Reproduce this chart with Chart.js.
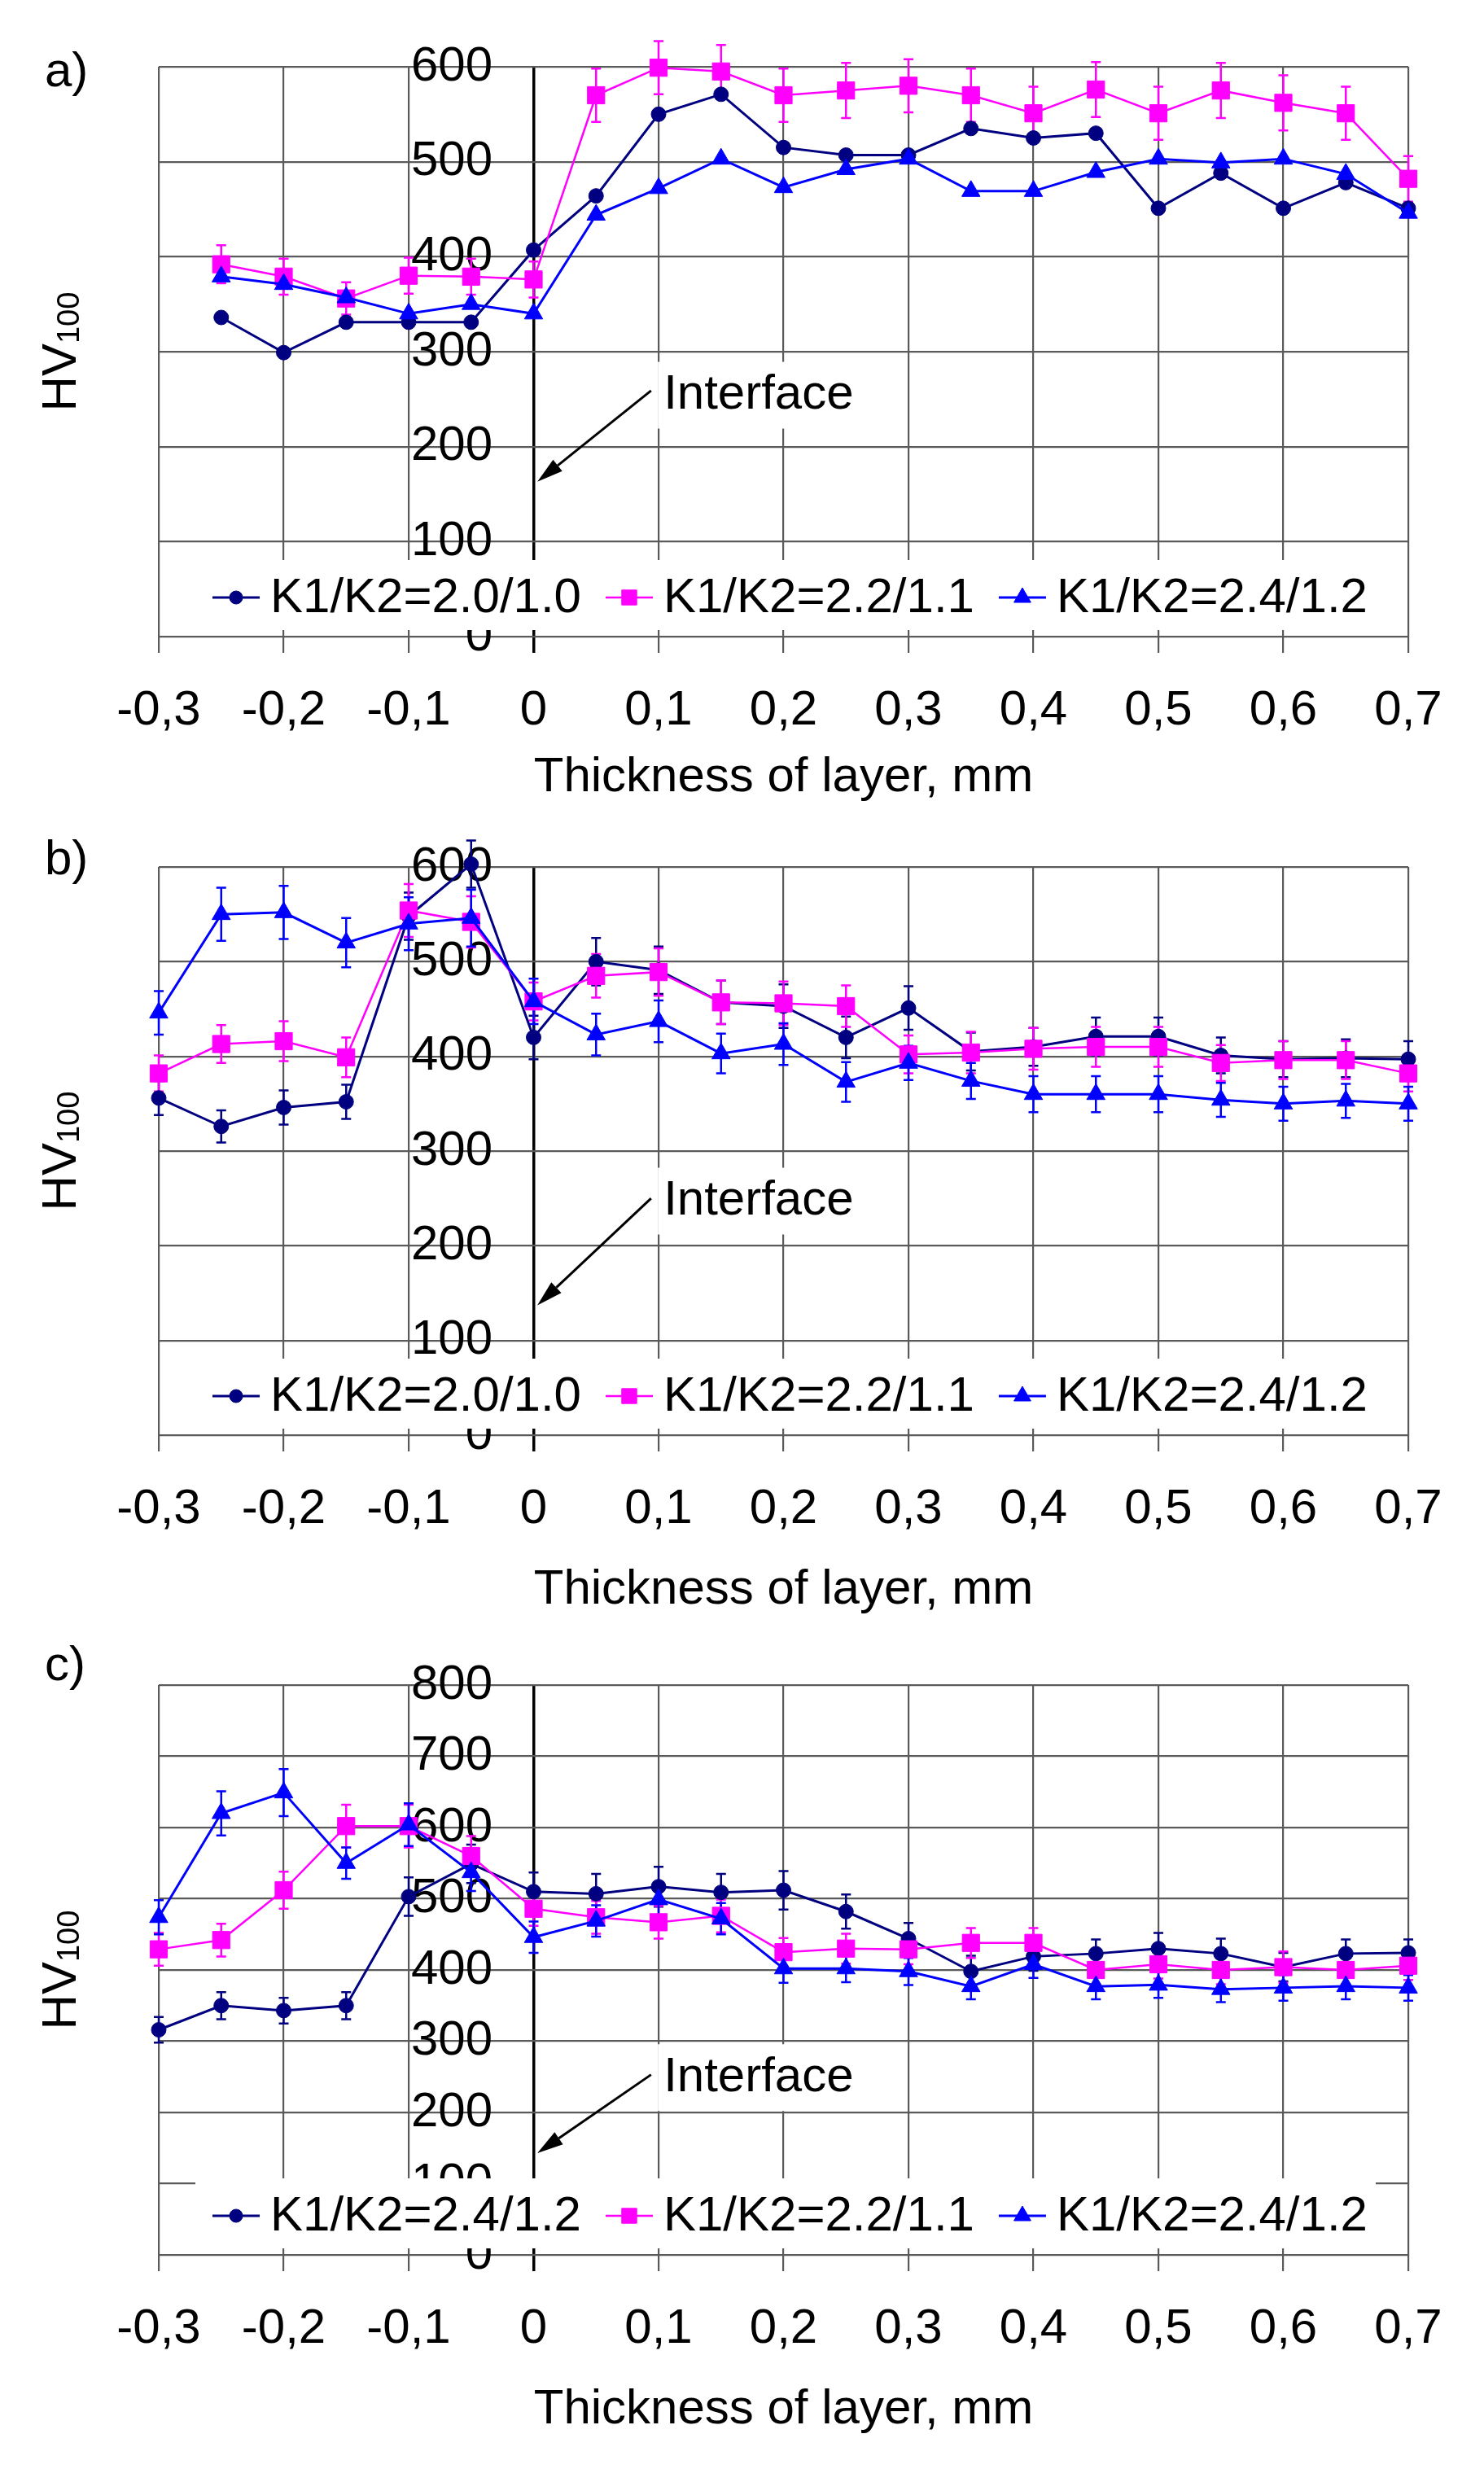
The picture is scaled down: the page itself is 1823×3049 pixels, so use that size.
<!DOCTYPE html>
<html><head><meta charset="utf-8">
<script src="https://cdn.jsdelivr.net/npm/chart.js@4.4.1/dist/chart.umd.min.js"></script>
<style>
html,body{margin:0;padding:0;background:#fff;}
#wrap{position:relative;width:1823px;height:3049px;background:#fff;overflow:hidden;}
.pan{position:absolute;left:0;width:1823px;}
canvas{display:block;}
</style></head><body>
<div id="wrap">
<div class="pan" style="top:0;height:1000px"><canvas id="ca" width="1823" height="1000"></canvas></div>
<div class="pan" style="top:1000px;height:1000px"><canvas id="cb" width="1823" height="1000"></canvas></div>
<div class="pan" style="top:2000px;height:1049px"><canvas id="cc" width="1823" height="1049"></canvas></div>
</div>
<script>
// ---------- data ----------
const xTickLabels = ['-0,3','-0,2','-0,1','0','0,1','0,2','0,3','0,4','0,5','0,6','0,7'];
const yTickLabels600 = ['0','100','200','300','400','500','600'];
const yTickLabels800 = ['0','100','200','300','400','500','600','700','800'];
const xAxisTitle = 'Thickness of layer, mm';

const xA  = [-0.25,-0.2,-0.15,-0.1,-0.05,0,0.05,0.1,0.15,0.2,0.25,0.3,0.35,0.4,0.45,0.5,0.55,0.6,0.65,0.7];
const xBC = [-0.3,-0.25,-0.2,-0.15,-0.1,-0.05,0,0.05,0.1,0.15,0.2,0.25,0.3,0.35,0.4,0.45,0.5,0.55,0.6,0.65,0.7];

// panel a
const labelsA = ['K1/K2=2.0/1.0','K1/K2=2.2/1.1','K1/K2=2.4/1.2'];
const navyA  = [336,299,331,331,331,407,464,550,571,515,507,507,535,525,530,451,488,451,478,451];
const magA   = [392,379,356,380,379,376,570,599,595,570,575,580,570,551,576,551,575,562,551,482];
const magAerr= [20,19,17,19,19,19,28,28,28,28,29,28,28,28,29,28,29,29,28,24];
const blueA  = [379,371,357,340,350,340,444,472,503,473,492,503,469,469,489,503,499,503,487,446];

// panel b
const labelsB = ['K1/K2=2.0/1.0','K1/K2=2.2/1.1','K1/K2=2.4/1.2'];
const navyB   = [356,326,346,352,548,603,420,500,491,457,453,420,451,405,410,421,421,401,397,398,397];
const navyBerr= [18,17,18,18,25,25,23,25,25,23,23,22,23,20,20,20,20,19,19,20,19];
const magB    = [382,413,416,399,554,542,458,485,489,457,456,453,402,404,408,410,410,393,396,396,382];
const magBerr = [19,20,21,21,28,27,20,23,25,23,23,22,20,22,22,21,21,19,20,20,19];
const blueB   = [446,550,552,520,540,546,458,423,437,403,413,373,393,374,360,360,360,354,350,353,350];
const blueBerr= [23,28,28,26,28,30,24,22,22,21,22,21,18,19,19,19,19,18,18,18,18];

// panel c
const labelsC = ['K1/K2=2.4/1.2','K1/K2=2.2/1.1','K1/K2=2.4/1.2'];
const navyC   = [316,350,343,350,503,549,510,507,517,509,512,482,444,398,419,423,430,423,404,423,424];
const navyCerr= [18,19,18,19,27,27,27,28,28,26,27,24,22,22,20,20,22,21,20,20,19];
const magC    = [429,442,512,602,602,560,486,474,467,476,425,430,429,438,438,400,408,400,404,400,406];
const magCerr = [23,23,26,30,30,28,24,23,23,23,20,21,21,21,21,20,20,20,22,20,20];
const blueC   = [474,620,649,550,604,537,446,469,499,472,402,402,398,377,408,377,379,373,375,377,375];
const blueCerr= [24,31,33,22,30,26,22,22,22,22,20,19,19,18,19,18,18,18,18,18,18];

// ---------- styling ----------
const FONT = "'Liberation Sans', Arial, Helvetica, sans-serif";
const FS = 60;
const NAVY = '#000080', MAG = '#FF00FF', BLUE = '#0000FF';
const GRID = '#5a5a5a';

const styleSeries = [
  {color: NAVY, style: 'circle',   r: 9,  lr: 8,  bw: 3},
  {color: MAG,  style: 'rect',     r: 15, lr: 13, bw: 2.5},
  {color: BLUE, style: 'triangle', r: 13, lr: 12, bw: 3}
];

const isZero = v => Math.abs(v) < 1e-9;

const decoPlugin = {
  id: 'deco',
  beforeDatasetsDraw(chart) {
    const {ctx, chartArea: ca, scales: {x, y}} = chart;
    const o = chart.options.plugins.deco;
    ctx.save();
    // Interface annotation
    ctx.font = FS + 'px ' + FONT;
    ctx.textBaseline = 'middle';
    ctx.textAlign = 'left';
    const tx = x.getPixelForValue(0.104);
    const ty = y.getPixelForValue(o.ifaceY);
    const tw = ctx.measureText('Interface').width;
    ctx.fillStyle = '#fff';
    ctx.fillRect(tx - 7, ty - 40, tw + 12, 82);
    ctx.fillStyle = '#000';
    ctx.fillText('Interface', tx, ty + 1);
    const x1 = x.getPixelForValue(0.094), y1 = y.getPixelForValue(o.arrowFrom);
    const x2 = x.getPixelForValue(0.003), y2 = y.getPixelForValue(o.arrowTo);
    const ang = Math.atan2(y2 - y1, x2 - x1);
    const hl = 32, hw = 9;
    const bx = x2 - Math.cos(ang) * hl, by = y2 - Math.sin(ang) * hl;
    ctx.strokeStyle = '#000';
    ctx.lineWidth = 3;
    ctx.beginPath(); ctx.moveTo(x1, y1); ctx.lineTo(bx, by); ctx.stroke();
    ctx.beginPath();
    ctx.moveTo(x2, y2);
    ctx.lineTo(bx + Math.sin(ang) * hw, by - Math.cos(ang) * hw);
    ctx.lineTo(bx - Math.sin(ang) * hw, by + Math.cos(ang) * hw);
    ctx.closePath(); ctx.fillStyle = '#000'; ctx.fill();
    // error bars
    chart.data.datasets.forEach(ds => {
      if (!ds.errors) return;
      ctx.strokeStyle = ds.borderColor;
      ctx.lineWidth = 2.5;
      ds.data.forEach((p, i) => {
        const e = ds.errors[i];
        const px = x.getPixelForValue(p.x);
        const yt = y.getPixelForValue(p.y + e), yb = y.getPixelForValue(p.y - e);
        ctx.beginPath();
        ctx.moveTo(px, yt); ctx.lineTo(px, yb);
        ctx.moveTo(px - 6, yt); ctx.lineTo(px + 6, yt);
        ctx.moveTo(px - 6, yb); ctx.lineTo(px + 6, yb);
        ctx.stroke();
      });
    });
    ctx.restore();
  },
  afterDatasetsDraw(chart) {
    const {ctx, chartArea: ca} = chart;
    const o = chart.options.plugins.deco;
    ctx.save();
    // legend box inside plot
    ctx.fillStyle = '#fff';
    ctx.fillRect(ca.left + 45, ca.bottom - 94, ca.right - ca.left - 85, 86);
    ctx.font = FS + 'px ' + FONT;
    ctx.textBaseline = 'middle';
    ctx.textAlign = 'left';
    const cy = ca.bottom - 48;
    let lx = ca.left + 66;
    chart.data.datasets.forEach(ds => {
      ctx.strokeStyle = ds.borderColor;
      ctx.lineWidth = ds.borderWidth;
      ctx.beginPath(); ctx.moveTo(lx, cy); ctx.lineTo(lx + 58, cy); ctx.stroke();
      ctx.fillStyle = ds.backgroundColor;
      ctx.lineWidth = 1;
      Chart.helpers.drawPoint(ctx, {pointStyle: ds.pointStyle, radius: ds.legendR, borderWidth: 1, rotation: 0}, lx + 29, cy);
      ctx.fillStyle = '#000';
      ctx.fillText(ds.label, lx + 71, cy + 1);
      lx += 71 + ctx.measureText(ds.label).width + 30;
    });
    // y axis title HV100 with subscript
    const cyT = (ca.top + ca.bottom) / 2;
    ctx.translate(93, cyT);
    ctx.rotate(-Math.PI / 2);
    ctx.textBaseline = 'alphabetic';
    ctx.font = FS + 'px ' + FONT;
    const w1 = ctx.measureText('HV').width;
    ctx.font = '38px ' + FONT;
    const w2 = ctx.measureText('100').width;
    const sx = -(w1 + w2) / 2;
    ctx.font = FS + 'px ' + FONT;
    ctx.fillText('HV', sx, 0);
    ctx.font = '38px ' + FONT;
    ctx.fillText('100', sx + w1, 4);
    ctx.restore();
    // panel label
    ctx.save();
    ctx.font = FS + 'px ' + FONT;
    ctx.fillStyle = '#000';
    ctx.textBaseline = 'middle';
    ctx.textAlign = 'left';
    ctx.fillText(o.panel, 55, o.panelY);
    ctx.restore();
  }
};

function makeChart(id, cfg) {
  const datasets = cfg.series.map((vals, i) => {
    const st = styleSeries[i];
    return {
      label: cfg.labels[i],
      data: cfg.x.map((xv, j) => ({x: xv, y: vals[j]})),
      errors: cfg.errs[i],
      borderColor: st.color, backgroundColor: st.color,
      pointBorderColor: st.color, pointBackgroundColor: st.color,
      borderWidth: st.bw, pointStyle: st.style, pointRadius: st.r, pointHoverRadius: st.r,
      pointBorderWidth: 1, legendR: st.lr, tension: 0, clip: false, order: 3 - i
    };
  });
  return new Chart(document.getElementById(id), {
    type: 'line',
    data: {datasets},
    options: {
      responsive: false, animation: false, devicePixelRatio: 1,
      events: [],
      layout: {padding: {left: 195, right: 93, top: cfg.top, bottom: cfg.padBottom}},
      plugins: {
        legend: {display: false}, tooltip: {enabled: false},
        deco: {panel: cfg.panel, panelY: cfg.panelY, ifaceY: cfg.ifaceY, arrowFrom: cfg.arrowFrom, arrowTo: cfg.arrowTo}
      },
      scales: {
        x: {
          type: 'linear', min: -0.3, max: 0.7, position: 'bottom',
          ticks: {stepSize: 0.1, autoSkip: false, maxRotation: 0, minRotation: 0, padding: 35,
            color: '#000', font: {family: FONT, size: FS}, callback: (v, i) => xTickLabels[i]},
          grid: {color: c => (c.tick && isZero(c.tick.value)) ? '#000' : GRID,
                 lineWidth: c => (c.tick && isZero(c.tick.value)) ? 3.5 : 2.2,
                 tickLength: 20, drawTicks: true},
          border: {display: false},
          title: {display: true, text: xAxisTitle, color: '#000', font: {family: FONT, size: FS}, padding: 0},
          afterFit: s => { s.height = cfg.xH; s.paddingLeft = 0; s.paddingRight = 0; }
        },
        y: {
          type: 'linear', min: 0, max: cfg.ymax, position: 'left',
          ticks: {stepSize: 100, mirror: true, crossAlign: 'far', padding: 310,
            color: '#000', font: {family: FONT, size: FS}, callback: (v, i) => cfg.yLabels[i]},
          grid: {color: GRID, lineWidth: 2.2, drawTicks: false},
          border: {display: false},
          afterFit: s => { s.width = 0; s.paddingTop = 0; s.paddingBottom = 0; }
        }
      }
    },
    plugins: [decoPlugin]
  });
}

makeChart('ca', {
  x: xA, labels: labelsA, series: [navyA, magA, blueA], errs: [null, magAerr, null],
  ymax: 600, yLabels: yTickLabels600, top: 82, xH: 209, padBottom: 9,
  panel: 'a)', panelY: 89, ifaceY: 255, arrowFrom: 259, arrowTo: 163
});
makeChart('cb', {
  x: xBC, labels: labelsB, series: [navyB, magB, blueB], errs: [navyBerr, magBerr, blueBerr],
  ymax: 600, yLabels: yTickLabels600, top: 65, xH: 226, padBottom: 11,
  panel: 'b)', panelY: 57, ifaceY: 248, arrowFrom: 250, arrowTo: 137
});
makeChart('cc', {
  x: xBC, labels: labelsC, series: [navyC, magC, blueC], errs: [navyCerr, magCerr, blueCerr],
  ymax: 800, yLabels: yTickLabels800, top: 70, xH: 226, padBottom: 53,
  panel: 'c)', panelY: 47, ifaceY: 250, arrowFrom: 253, arrowTo: 143
});
</script>
</body></html>
